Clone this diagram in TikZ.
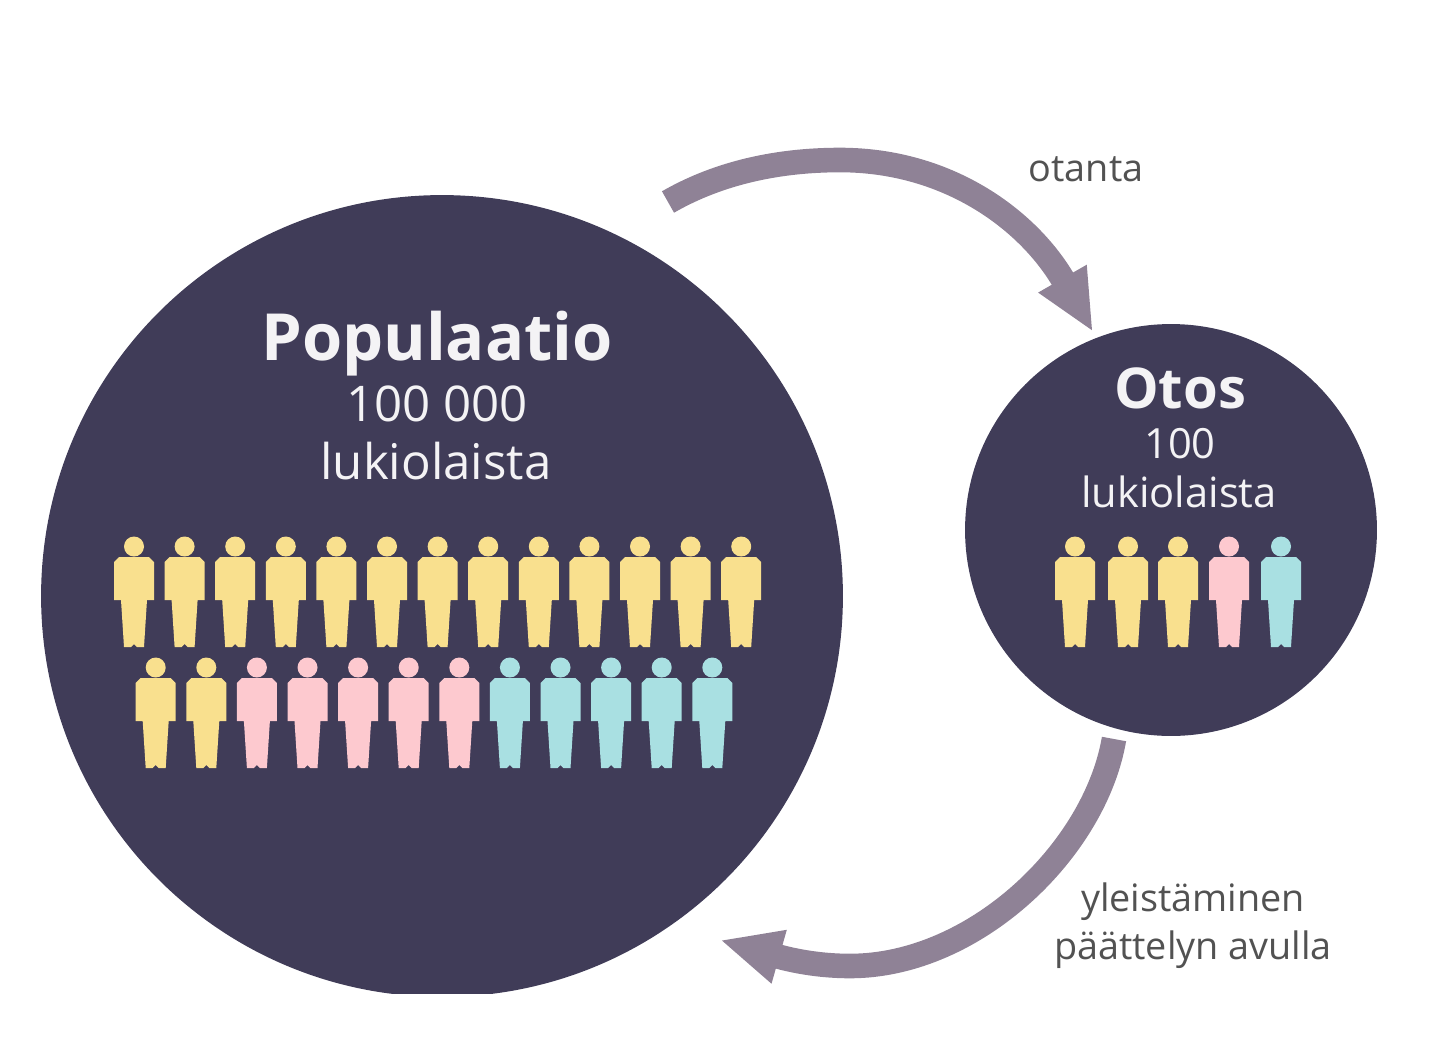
\documentclass[tikz,border=0pt]{standalone}
\usepackage{fontspec}
\setmainfont{Open Sans}
\usetikzlibrary{arrows.meta}
\definecolor{dsk}{HTML}{403C58}
\definecolor{arw}{HTML}{8F8296}
\definecolor{ylw}{HTML}{F9E08E}
\definecolor{pnk}{HTML}{FDC9CF}
\definecolor{trq}{HTML}{A9E0E2}
\tikzset{%
    dsc/.style={circle,fill=dsk,inner sep=0pt},
    lbl/.style={inner sep=0pt,text=white!94!dsk,align=center},
    capt/.style={inner sep=0pt,text=black!68,font=\fontsize{21.5}{24}\selectfont},
    bow/.style={line width=14pt,draw=arw,-{Triangle[length=35pt,width=29pt]}},
    person/.pic={
        \fill[pic actions] (0,9.5) circle (10);
        \fill[pic actions] (-15,20) -- (15,20) -- (20,25) -- (20,63) -- (13,63) -- (10,110)
            -- (3,110) -- (0,107) -- (-3,110) -- (-10,110) -- (-13,63) -- (-20,63) -- (-20,25) -- cycle;
    }
}
\begin{document}
\begin{tikzpicture}[x=0.02cm,y=-0.02cm]
        \useasboundingbox (0,0) rectangle (1440,1048);

        \begin{scope}
            \clip (0,0) rectangle (1440,993);
            \node[dsc,minimum size=16.04cm] (popu) at (442,596){};
        \end{scope}
        \node[dsc,minimum size=8.24cm] (otos) at (1171,530){};

        \node[lbl,font=\fontsize{37}{40}\bfseries\selectfont] (t1) at (437,344){Populaatio};
        \node[lbl,font=\fontsize{28}{32}\selectfont] (t2) at (437,404){100 000};
        \node[lbl,font=\fontsize{28}{32}\selectfont] (t3) at (436,461){lukiolaista};
        \node[lbl,font=\fontsize{32}{36}\bfseries\selectfont] (t4) at (1180,388){Otos};
        \node[lbl,font=\fontsize{23.7}{26}\selectfont] (t5) at (1180,444){100};
        \node[lbl,font=\fontsize{23.7}{26}\selectfont] (t6) at (1179,492){lukiolaista};

        \node[capt] (c1) at (1086,169){otanta};
        \node[capt] (c2) at (1193,902){yleistäminen};
        \node[capt] (c3) at (1193,950){päättelyn avulla};

        \foreach \i in {0,...,12}
            \pic[fill=ylw] at (134+50.6*\i,537) {person};
        \foreach \i/\c in {0/ylw,1/ylw,2/pnk,3/pnk,4/pnk,5/pnk,6/pnk,7/trq,8/trq,9/trq,10/trq,11/trq}
            \pic[fill=\c] at (155.7+50.6*\i,658) {person};
        \foreach \x/\c in {1075/ylw,1128/ylw,1178/ylw,1229/pnk,1281/trq}
            \pic[fill=\c] at (\x,537) {person};

        \coordinate (s1) at (668,202);
        \coordinate (m1) at (840,160);
        \coordinate (e1) at (1093,332);
        \coordinate (s2) at (1114,739);
        \coordinate (m2) at (850,966);
        \coordinate (e2) at (720,940);
        \draw[bow] (s1) .. controls (720,172) and (780,160) .. (m1)
            .. controls (950,160) and (1030,222) .. (e1);
        \draw[bow] (s2) .. controls (1095,850) and (975,966) .. (m2)
            .. controls (810,966) and (780,957) .. (e2);
    \end{tikzpicture}
\end{document}
